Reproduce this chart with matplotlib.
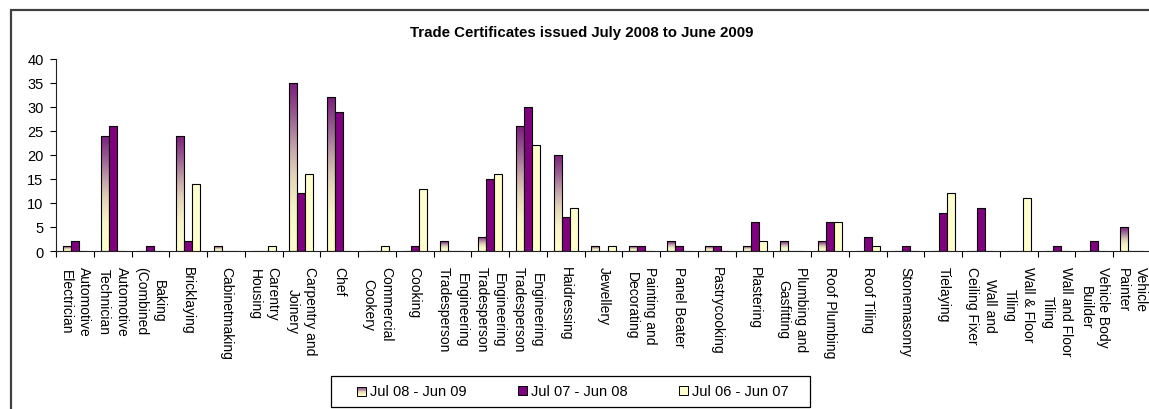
import numpy as np
import matplotlib
matplotlib.use('Agg')
import matplotlib.pyplot as plt
from matplotlib.colors import LinearSegmentedColormap
from matplotlib.patches import Rectangle
from matplotlib.legend_handler import HandlerBase

plt.rcParams['font.family'] = ['Liberation Sans', 'DejaVu Sans']

# category labels (Excel wraps them onto two lines)
categories = ['Automotive\nElectrician', 'Automotive\nTechnician', 'Baking\n(Combined',
              'Bricklaying', 'Cabinetmaking', 'Carentry\nHousing', 'Carpentry and\nJoinery',
              'Chef', 'Commercial\nCookery', 'Cooking', 'Engineering\nTradesperson',
              'Engineering\nTradesperson', 'Engineering\nTradesperson', 'Haidressing',
              'Jewellery', 'Painting and\nDecorating', 'Panel Beater', 'Pastrycooking',
              'Plastering', 'Plumbing and\nGasfitting', 'Roof Plumbing', 'Roof Tiling',
              'Stonemasonry', 'Tielaying', 'Wall and\nCeiling Fixer', 'Wall & Floor\nTiling',
              'Wall and Floor\nTiling', 'Vehicle Body\nBuilder', 'Vehicle\nPainter']

series_names = ['Jul 08 - Jun 09', 'Jul 07 - Jun 08', 'Jul 06 - Jun 07']
jul08_jun09 = [1, 24, 0, 24, 1, 0, 35, 32, 0, 0, 2, 3, 26, 20, 1, 1, 2, 1, 1, 2, 2, 0, 0, 0, 0, 0, 0, 0, 5]
jul07_jun08 = [2, 26, 1, 2, 0, 0, 12, 29, 0, 1, 0, 15, 30, 7, 0, 1, 1, 1, 6, 0, 6, 3, 1, 8, 9, 0, 1, 2, 0]
jul06_jun07 = [0, 0, 0, 14, 0, 1, 16, 0, 1, 13, 0, 16, 22, 9, 1, 0, 0, 0, 2, 0, 6, 1, 0, 12, 0, 11, 0, 0, 0]

purple = '#800080'
cream = '#FFFFCC'
grad = LinearSegmentedColormap.from_list('grad', [
    (0.0, '#FFFFCC'), (0.25, '#F8F4C8'), (0.45, '#E2D4B8'),
    (0.6, '#C6A8AC'), (0.8, '#9A5E92'), (1.0, '#7C1C7C')])

W, H = 1149, 410
fig = plt.figure(figsize=(W / 100, H / 100), dpi=100)
ax = fig.add_axes([56 / W, 158 / H, 1095 / W, 192 / H])

x = np.arange(len(categories))
bw = 0.212
edge = dict(edgecolor='black', linewidth=0.8)

bars1 = ax.bar(x - bw, jul08_jun09, bw, facecolor='none', zorder=3, **edge)
ax.bar(x, jul07_jun08, bw, color=purple, zorder=3, **edge)
ax.bar(x + bw, jul06_jun07, bw, color=cream, zorder=3, **edge)

# vertical gradient fill for the first series, one per bar
g = np.linspace(0, 1, 256).reshape(-1, 1)
for b in bars1:
    h = b.get_height()
    if h <= 0:
        continue
    x0 = b.get_x()
    im = ax.imshow(g, cmap=grad, origin='lower', aspect='auto',
                   extent=[x0, x0 + b.get_width(), 0, h], zorder=2)
    im.set_clip_path(b)

ax.set_xlim(-0.5, len(categories) - 0.5)
ax.set_ylim(0, 40)
ax.set_yticks(range(0, 41, 5))
ax.tick_params(axis='y', direction='out', length=4, width=0.8, pad=5, labelsize=10.5)
ax.set_xticks(x)
ax.set_xticklabels(categories, rotation=-90, ha='center', va='top',
                   multialignment='center', fontsize=10, linespacing=1.35)
ax.tick_params(axis='x', which='major', length=0, pad=11)
ax.set_xticks(np.arange(-0.5, len(categories)), minor=True)
ax.tick_params(axis='x', which='minor', direction='out', length=4, width=0.8)
for s in ['top', 'right']:
    ax.spines[s].set_visible(False)
for s in ['left', 'bottom']:
    ax.spines[s].set_linewidth(0.8)
    ax.spines[s].set_color('#222222')

fig.text(582 / W, 1 - 33 / H, 'Trade Certificates issued July 2008 to June 2009',
         ha='center', va='center', fontsize=10.8, fontweight='bold')

# outer chart border (left and top visible, rest is cropped)
fig.patches.append(Rectangle((11 / W, -0.2), 1.2, 1.2 - 11 / H,
                             transform=fig.transFigure, fill=False,
                             edgecolor='#404040', linewidth=1.6))


class GradientHandler(HandlerBase):
    def create_artists(self, legend, orig, xd, yd, width, height, fontsize, trans):
        n = 12
        arts = []
        for i in range(n):
            arts.append(Rectangle((xd, yd + i * height / n), width, height / n,
                                  facecolor=grad((i + 0.5) / n), edgecolor='none',
                                  transform=trans))
        arts.append(Rectangle((xd, yd), width, height, facecolor='none',
                              edgecolor='black', linewidth=0.7, transform=trans))
        return arts


h1 = Rectangle((0, 0), 1, 1, facecolor='none')
h2 = Rectangle((0, 0), 1, 1, facecolor=purple, edgecolor='black', linewidth=0.7)
h3 = Rectangle((0, 0), 1, 1, facecolor=cream, edgecolor='black', linewidth=0.7)
leg = fig.legend([h1, h2, h3], series_names, ncol=3, loc='center',
                 bbox_to_anchor=(573 / W, 1 - 392.5 / H), frameon=False,
                 fontsize=10.5, handlelength=0.6, handleheight=0.6,
                 handletextpad=0.3, columnspacing=3.5, borderpad=0.3,
                 handler_map={h1: GradientHandler()})

# legend box drawn separately to get Excel's wide padding
fig.patches.append(Rectangle((331 / W, 1 - 408 / H), 479 / W, 31 / H,
                             transform=fig.transFigure, fill=False,
                             edgecolor='black', linewidth=0.9))

fig.savefig('out.png', dpi=100)
